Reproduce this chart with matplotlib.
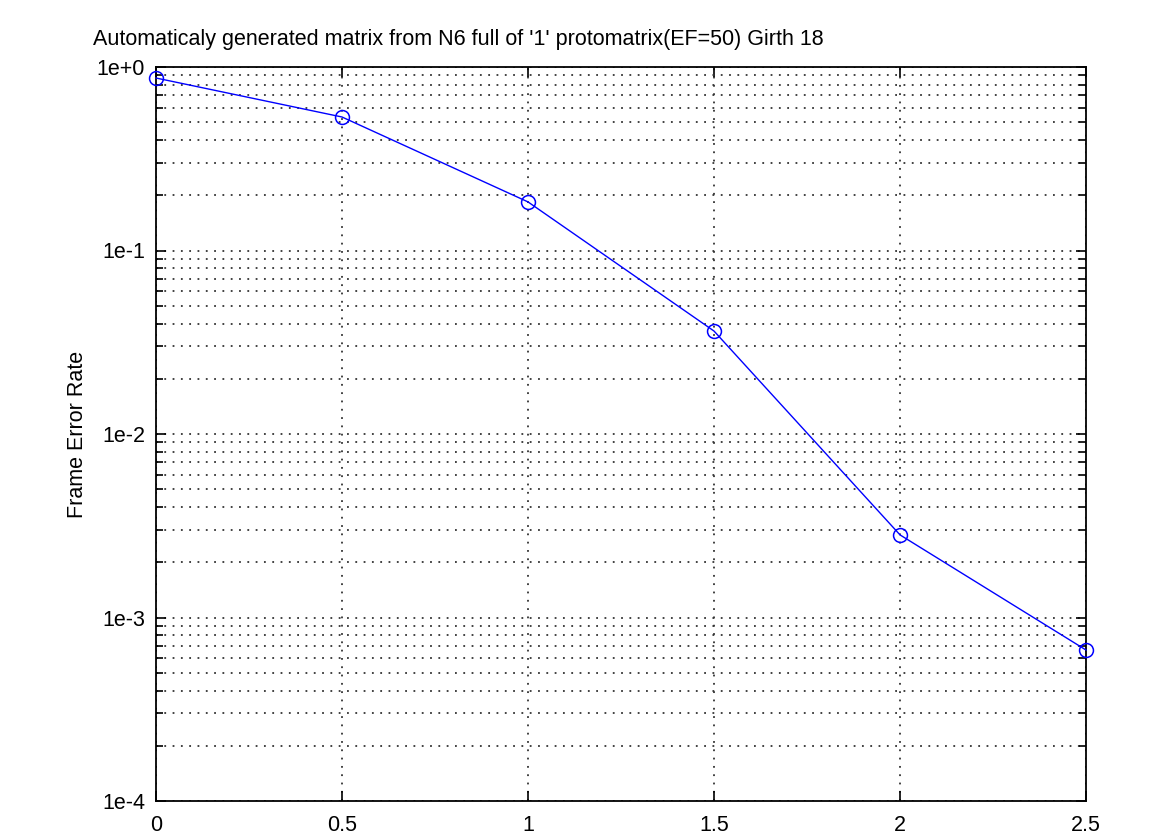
import matplotlib
matplotlib.use("Agg")
import matplotlib.pyplot as plt
from matplotlib.ticker import LogLocator, NullFormatter

plt.rcParams['font.family'] = ['Liberation Sans', 'DejaVu Sans']

ebno = [0, 0.5, 1, 1.5, 2, 2.5]
fer = [0.871, 0.534, 0.184, 0.0364, 0.00282, 0.000665]
xticks = [0, 0.5, 1, 1.5, 2, 2.5]
yticks = [1e-4, 1e-3, 1e-2, 1e-1, 1e0]
ylabels = ['1e-4', '1e-3', '1e-2', '1e-1', '1e+0']

fig = plt.figure(figsize=(11.75, 8.35), dpi=100)
ax = fig.add_axes([156 / 1175, 1 - 801 / 835, 930 / 1175, 734 / 835])

ax.semilogy(ebno, fer, '-o', color='#0000ff', lw=1.0, markersize=10,
            markerfacecolor='none', markeredgewidth=1.1, clip_on=False, zorder=5)

ax.set_xlim(0, 2.5)
ax.set_ylim(1e-4, 1e0)
ax.set_xticks(xticks)
ax.set_xticklabels([f"{v:g}" for v in xticks])
ax.set_yticks(yticks)
ax.set_yticklabels(ylabels)
ax.yaxis.set_minor_locator(LogLocator(base=10, subs=range(2, 10), numticks=20))
ax.yaxis.set_minor_formatter(NullFormatter())

ax.tick_params(which='both', direction='in', top=True, right=True, labelsize=15.5, colors='black')
ax.tick_params(which='major', length=7, width=1.2, pad=8)
ax.tick_params(which='minor', length=5, width=1.2)
ax.tick_params(axis='x', pad=10)

grid_style = dict(color='#333333', linewidth=1.3, linestyle=(0, (1.0, 3.6)))
ax.grid(True, which='major', axis='both', **grid_style)
ax.grid(True, which='minor', axis='y', **grid_style)

for s in ax.spines.values():
    s.set_linewidth(1.3)

ax.set_ylabel('Frame Error Rate', fontsize=15.5, labelpad=6)
fig.text(93 / 1175, 1 - 40 / 835, "Automaticaly generated matrix from N6 full of '1' protomatrix(EF=50) Girth 18",
         fontsize=15.5, ha='left', va='center')

fig.savefig('out.png', dpi=100)
